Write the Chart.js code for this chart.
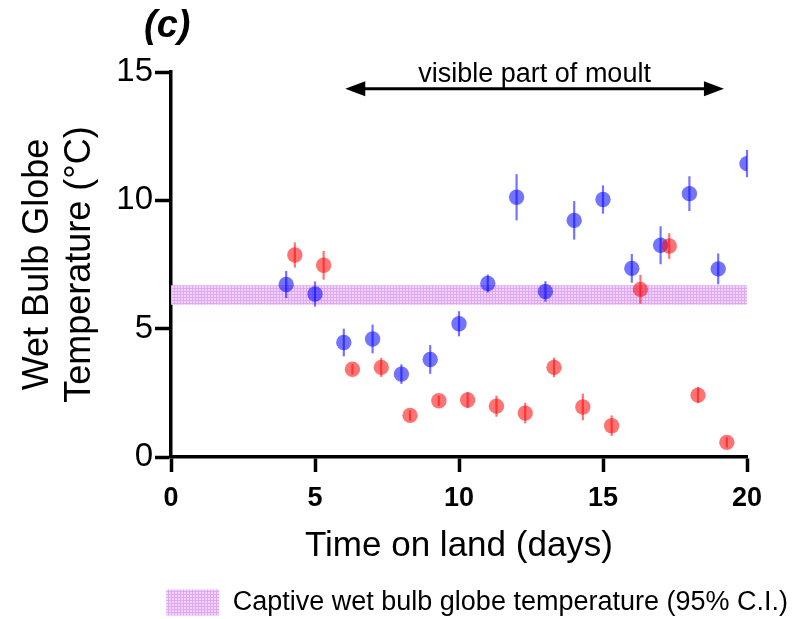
<!DOCTYPE html>
<html>
<head>
<meta charset="utf-8">
<script src="https://cdn.jsdelivr.net/npm/chart.js@4.4.1/dist/chart.umd.min.js"></script>
<style>
  body { margin: 0; background: #fff; }
  canvas { display: block; }
</style>
</head>
<body>
<canvas id="wbgtChart" width="794" height="619"></canvas>
<script>
// Blue series: days on land, mean WBGT and error
const blueDays = [4, 5, 6, 7, 8, 9, 10, 11, 12, 13, 14, 15, 16, 17, 18, 19, 20];
const blueTemps = [6.72, 6.35, 4.46, 4.6, 3.23, 3.8, 5.19, 6.76, 10.12, 6.45, 9.22, 10.03, 7.35, 8.25, 10.26, 7.33, 11.43];
const blueErrors = [0.53, 0.49, 0.54, 0.56, 0.38, 0.56, 0.49, 0.35, 0.9, 0.4, 0.75, 0.55, 0.56, 0.74, 0.68, 0.6, 0.53];

// Red series (plotted slightly offset to the right)
const redDays = [4.3, 5.3, 6.3, 7.3, 8.3, 9.3, 10.3, 11.3, 12.3, 13.3, 14.3, 15.3, 16.3, 17.3, 18.3, 19.3];
const redTemps = [7.87, 7.47, 3.42, 3.49, 1.62, 2.19, 2.22, 1.98, 1.71, 3.49, 1.95, 1.22, 6.53, 8.22, 2.41, 0.57];
const redErrors = [0.49, 0.56, 0.2, 0.37, 0.2, 0.2, 0.31, 0.41, 0.4, 0.38, 0.52, 0.4, 0.56, 0.5, 0.31, 0.2];

// Captive WBGT 95% C.I. band
const captiveLower = 5.93;
const captiveUpper = 6.69;
const bandDays = [0, 20];

const xTicks = [0, 5, 10, 15, 20];
const yTicks = [0, 5, 10, 15];

// "visible part of moult" arrow (in data units)
const moultFrom = 6.05;
const moultTo = 19.2;
const moultLevel = 14.35;

const FONT = "'Liberation Sans', Arial, Helvetica, sans-serif";

function bandPattern() {
    const c = document.createElement("canvas");
    c.width = 3;
    c.height = 3;
    const g = c.getContext("2d");
    g.fillStyle = "#f2d4fb";
    g.fillRect(0, 0, 3, 3);
    g.fillStyle = "#dea8f2";
    g.fillRect(0, 0, 3, 1);
    g.fillRect(0, 0, 1, 3);
    return g.createPattern(c, "repeat");
}

const pattern = bandPattern();

const errorBars = {
    id: "errorBars",
    afterDatasetDraw(chart, args) {
        const ds = chart.data.datasets[args.index];
        if (!ds.errors) return;
        const { ctx, scales: { x, y } } = chart;
        ctx.save();
        ctx.strokeStyle = ds.pointBackgroundColor;
        ctx.lineWidth = 2.2;
        ds.data.forEach((p, i) => {
            const px = x.getPixelForValue(p.x);
            ctx.beginPath();
            ctx.moveTo(px, y.getPixelForValue(p.y - ds.errors[i]));
            ctx.lineTo(px, y.getPixelForValue(p.y + ds.errors[i]));
            ctx.stroke();
        });
        ctx.restore();
    },
};

const annotations = {
    id: "annotations",
    afterDraw(chart) {
        const { ctx, scales: { x, y } } = chart;
        const x0 = x.getPixelForValue(moultFrom);
        const x1 = x.getPixelForValue(moultTo);
        const yy = y.getPixelForValue(moultLevel);
        const head = 20;
        const half = 7.5;
        ctx.save();
        ctx.fillStyle = "#000";
        ctx.strokeStyle = "#000";
        ctx.lineWidth = 3;
        ctx.beginPath();
        ctx.moveTo(x0 + head - 2, yy);
        ctx.lineTo(x1 - head + 2, yy);
        ctx.stroke();
        ctx.beginPath();
        ctx.moveTo(x0, yy);
        ctx.lineTo(x0 + head, yy - half);
        ctx.lineTo(x0 + head, yy + half);
        ctx.closePath();
        ctx.fill();
        ctx.beginPath();
        ctx.moveTo(x1, yy);
        ctx.lineTo(x1 - head, yy - half);
        ctx.lineTo(x1 - head, yy + half);
        ctx.closePath();
        ctx.fill();

        ctx.font = "27px " + FONT;
        ctx.textAlign = "center";
        ctx.textBaseline = "alphabetic";
        ctx.fillText("visible part of moult", (x0 + x1) / 2, yy - 7);

        ctx.font = "italic bold 38px " + FONT;
        ctx.textAlign = "left";
        ctx.fillText("(c)", 144, 37);
        ctx.restore();
    },
};

new Chart(document.getElementById("wbgtChart"), {
    type: "scatter",
    data: {
        datasets: [
            {
                label: "red",
                data: redDays.map((d, i) => ({ x: d, y: redTemps[i] })),
                errors: redErrors,
                pointRadius: 7.7,
                pointHoverRadius: 7.7,
                pointBorderWidth: 0,
                pointBackgroundColor: "rgba(255, 0, 0, 0.55)",
                borderColor: "rgba(255, 0, 0, 0.55)",
                order: 0,
            },
            {
                label: "blue",
                data: blueDays.map((d, i) => ({ x: d, y: blueTemps[i] })),
                errors: blueErrors,
                pointRadius: 7.7,
                pointHoverRadius: 7.7,
                pointBorderWidth: 0,
                pointBackgroundColor: "rgba(0, 0, 255, 0.55)",
                borderColor: "rgba(0, 0, 255, 0.55)",
                order: 1,
            },
            {
                type: "line",
                label: "Captive wet bulb globe temperature (95% C.I.)",
                data: bandDays.map((d) => ({ x: d, y: captiveUpper })),
                backgroundColor: pattern,
                borderWidth: 0,
                pointRadius: 0,
                fill: "+1",
                order: 2,
            },
            {
                type: "line",
                label: "lower",
                data: bandDays.map((d) => ({ x: d, y: captiveLower })),
                backgroundColor: pattern,
                borderWidth: 0,
                pointRadius: 0,
                fill: false,
                order: 3,
            },
        ],
    },
    options: {
        responsive: false,
        devicePixelRatio: 1,
        animation: false,
        layout: {
            padding: { top: 72, left: 8, right: 4, bottom: -7 },
        },
        plugins: {
            tooltip: { enabled: false },
            legend: {
                position: "bottom",
                align: "end",
                labels: {
                    filter: (item) => item.text.startsWith("Captive"),
                    boxWidth: 53,
                    boxHeight: 26,
                    padding: 2,
                    color: "#000",
                    font: { family: FONT, size: 27 },
                },
            },
        },
        scales: {
            x: {
                type: "linear",
                min: 0,
                max: 20,
                afterBuildTicks: (scale) => {
                    scale.ticks = xTicks.map((v) => ({ value: v }));
                },
                afterFit: (scale) => {
                    scale.height = 130;
                },
                border: { color: "#000", width: 3.5 },
                grid: {
                    drawOnChartArea: false,
                    tickLength: 15,
                    tickWidth: 3.5,
                    color: "#000",
                },
                ticks: {
                    color: "#000",
                    padding: 10,
                    font: { family: FONT, size: 27, weight: "bold" },
                },
                title: {
                    display: true,
                    text: "Time on land (days)",
                    color: "#000",
                    padding: { top: 4, bottom: 20 },
                    font: { family: FONT, size: 35 },
                },
            },
            y: {
                min: 0,
                max: 15,
                afterBuildTicks: (scale) => {
                    scale.ticks = yTicks.map((v) => ({ value: v }));
                },
                afterFit: (scale) => {
                    scale.width = 163;
                },
                border: { color: "#000", width: 3.5 },
                grid: {
                    drawOnChartArea: false,
                    tickLength: 16,
                    tickWidth: 3.5,
                    color: "#000",
                },
                ticks: {
                    color: "#000",
                    padding: 2,
                    font: { family: FONT, size: 33 },
                },
                title: {
                    display: true,
                    text: ["Wet Bulb Globe", "Temperature (°C)"],
                    color: "#000",
                    padding: { top: 9, bottom: 0 },
                    font: { family: FONT, size: 36, lineHeight: 1.17 },
                },
            },
            spacer: {
                position: "right",
                display: true,
                border: { display: false },
                grid: { display: false },
                ticks: { display: false },
                afterFit: (scale) => {
                    scale.width = 43;
                },
            },
        },
    },
    plugins: [errorBars, annotations],
});
</script>
</body>
</html>
